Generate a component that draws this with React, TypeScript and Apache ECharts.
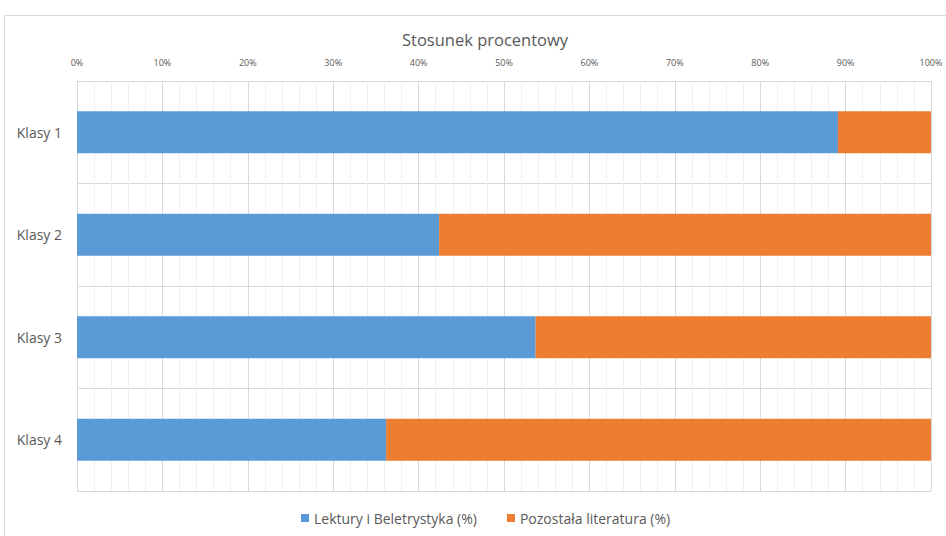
import React, { useEffect, useRef } from "react";
import * as echarts from "echarts";

const categories = ["Klasy 1", "Klasy 2", "Klasy 3", "Klasy 4"];
const lektury = [89.1, 42.4, 53.7, 36.2];
const pozostala = [10.9, 57.6, 46.3, 63.8];
const seriesNames = ["Lektury i Beletrystyka (%)", "Pozostała literatura (%)"];
const titleText = "Stosunek procentowy";

export default function App() {
  const ref = useRef<HTMLDivElement>(null);
  useEffect(() => {
    document.body.style.margin = "0";
    const chart = echarts.init(ref.current!, null, { renderer: "svg" });
    const font = "'Open Sans', sans-serif";
    chart.setOption({
      animation: false,
      backgroundColor: "#ffffff",
      textStyle: { fontFamily: font },
      title: {
        text: titleText,
        left: 480,
        top: 26,
        textAlign: "center",
        textStyle: { fontSize: 16.5, fontWeight: "normal", color: "#595959", fontFamily: font },
      },
      graphic: [
        {
          type: "rect",
          shape: { x: 4.5, y: 15.5, width: 960, height: 540 },
          style: { fill: "none", stroke: "#d9d9d9", lineWidth: 1 },
          silent: true,
        },
      ],
      legend: {
        bottom: 6,
        left: 296,
        itemWidth: 8,
        itemHeight: 8,
        itemGap: 30,
        icon: "rect",
        textStyle: { fontSize: 14, color: "#595959", fontFamily: font },
        data: seriesNames,
      },
      grid: { left: 77, right: 15, top: 81, bottom: 45, containLabel: false },
      xAxis: {
        type: "value",
        position: "top",
        min: 0,
        max: 100,
        interval: 10,
        axisLine: { show: false },
        axisTick: { show: false },
        axisLabel: { formatter: "{value}%", fontSize: 9, color: "#595959", margin: 14, fontFamily: font },
        splitLine: { show: true, lineStyle: { color: "#d9d9d9", width: 1 } },
        minorTick: { show: false, splitNumber: 5 },
        minorSplitLine: { show: true, lineStyle: { color: "#f0f0f0", width: 1 } },
      },
      yAxis: {
        type: "category",
        inverse: true,
        data: categories,
        axisLine: { show: true, lineStyle: { color: "#d9d9d9" } },
        axisTick: { show: false },
        axisLabel: { fontSize: 14, color: "#595959", margin: 15, fontFamily: font },
        splitLine: { show: true, lineStyle: { color: "#d9d9d9", width: 1 } },
      },
      series: [
        {
          name: seriesNames[0],
          type: "bar",
          stack: "total",
          data: lektury,
          barCategoryGap: "59%",
          itemStyle: { color: "#5b9bd5" },
        },
        {
          name: seriesNames[1],
          type: "bar",
          stack: "total",
          data: pozostala,
          barCategoryGap: "59%",
          itemStyle: { color: "#ed7d31" },
        },
      ],
    });
    return () => chart.dispose();
  }, []);
  return <div ref={ref} style={{ position: "absolute", left: 0, top: 0, width: 946, height: 536 }} />;
}
